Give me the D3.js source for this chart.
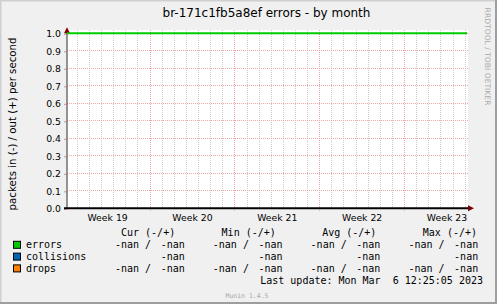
<!DOCTYPE html>
<html>
<head>
<meta charset="utf-8">
<script src="https://cdn.jsdelivr.net/npm/d3@7"></script>
<style>
  body { margin: 0; background: #F0F0F0; }
  svg { display: block; }
  text { font-family: "DejaVu Sans", sans-serif; }
  .mono { font-family: "DejaVu Sans Mono", monospace; white-space: pre; }
</style>
</head>
<body>
<div id="visualization"></div>
<script>
// time window of the month graph (munin: 33 days)
const timeStart = '2023-05-08T03:36:00Z';
const timeEnd = '2023-06-10T03:36:00Z';

// week tick labels
const weekStarts = ['2023-05-08', '2023-05-15', '2023-05-22', '2023-05-29', '2023-06-05'];
const weekLabels = ['Week 19', 'Week 20', 'Week 21', 'Week 22', 'Week 23'];

// y range
const yDomain = [0, 1.0];
const hruleValue = 1.0;

// legend
const seriesNames = ['errors', 'collisions', 'drops'];
const seriesColors = ['#00CC00', '#0066B3', '#FF8000'];
const statNames = ['Cur', 'Min', 'Avg', 'Max'];
// [in, out] per stat, null = not graphed
const errorsStats = [[NaN, NaN], [NaN, NaN], [NaN, NaN], [NaN, NaN]];
const collisionsStats = [[null, NaN], [null, NaN], [null, NaN], [null, NaN]];
const dropsStats = [[NaN, NaN], [NaN, NaN], [NaN, NaN], [NaN, NaN]];
const lastUpdate = 'Last update: Mon Mar  6 12:25:05 2023';

const chart = {
  width: 497,
  height: 304,
  left: 67,
  right: 467,
  top: 33.3,
  bottom: 208.3,

  init() {
    this.svg = d3.select('#visualization').append('svg')
      .attr('width', this.width)
      .attr('height', this.height);

    this.x = d3.scaleUtc()
      .domain([new Date(timeStart), new Date(timeEnd)])
      .range([this.left, this.right]);
    this.y = d3.scaleLinear()
      .domain(yDomain)
      .range([this.bottom, this.top]);

    this.drawFrame();
    this.drawGrid();
    this.drawAxes();
    this.drawSeries();
    this.drawTexts();
    this.drawLegend();
  },

  snap(v) {
    return Math.floor(v) + 0.5;
  },

  drawFrame() {
    const svg = this.svg;
    svg.append('rect').attr('width', this.width).attr('height', this.height).attr('fill', '#F0F0F0');
    // shade border
    svg.append('path').attr('d', `M0,${this.height} V0 H${this.width}`)
      .attr('fill', 'none').attr('stroke', '#CFCFCF').attr('stroke-width', 3);
    svg.append('path').attr('d', `M0,${this.height - 1} H${this.width - 1} V0`)
      .attr('fill', 'none').attr('stroke', '#9E9E9E').attr('stroke-width', 2);
    // canvas
    svg.append('rect')
      .attr('x', this.left).attr('y', 30)
      .attr('width', this.right - this.left + 1).attr('height', this.bottom - 30)
      .attr('fill', '#FFFFFF');
  },

  drawGrid() {
    const g = this.svg.append('g');
    const days = d3.utcDay.range(d3.utcDay.ceil(this.x.domain()[0]), this.x.domain()[1]);
    const weeks = weekStarts.map((d) => new Date(d + 'T00:00:00Z'))
      .filter((d) => d >= this.x.domain()[0]);
    const weekSet = new Set(weeks.map((d) => +d));

    g.selectAll('.minor')
      .data(days.filter((d) => !weekSet.has(+d)))
      .join('line')
      .attr('x1', (d) => this.snap(this.x(d)))
      .attr('x2', (d) => this.snap(this.x(d)))
      .attr('y1', 30).attr('y2', this.bottom)
      .attr('stroke', '#CDCDCD').attr('stroke-dasharray', '1,1');

    g.selectAll('.hgrid')
      .data(this.y.ticks(10).slice(1))
      .join('line')
      .attr('x1', this.left).attr('x2', this.right + 2)
      .attr('y1', (d) => this.snap(this.y(d)))
      .attr('y2', (d) => this.snap(this.y(d)))
      .attr('stroke', '#EFA8A8').attr('stroke-dasharray', '1,1');

    g.selectAll('.major')
      .data(weeks)
      .join('line')
      .attr('x1', (d) => this.snap(this.x(d)))
      .attr('x2', (d) => this.snap(this.x(d)))
      .attr('y1', 30).attr('y2', this.bottom + 3)
      .attr('stroke', '#EFA8A8').attr('stroke-dasharray', '1,1');
  },

  drawAxes() {
    const svg = this.svg;
    const yAxis = d3.axisLeft(this.y)
      .ticks(10)
      .tickFormat(d3.format('.1f'))
      .tickSize(3)
      .tickPadding(3);
    const ga = svg.append('g')
      .attr('transform', `translate(${this.left},0.5)`)
      .call(yAxis);
    ga.select('.domain').remove();
    ga.selectAll('line').attr('stroke', '#E08888');
    ga.selectAll('text')
      .attr('font-size', '9.3px')
      .attr('font-family', 'DejaVu Sans, sans-serif')
      .attr('fill', '#000');

    // y axis line + arrow
    svg.append('line')
      .attr('x1', this.left).attr('x2', this.left)
      .attr('y1', this.bottom).attr('y2', 29)
      .attr('stroke', '#7A7A7A').attr('stroke-width', 1.6);
    svg.append('path')
      .attr('d', `M${this.left - 3},${this.top} L${this.left + 3},${this.top} L${this.left},${this.top - 6}Z`)
      .attr('fill', '#7F0000');

    // x axis line + arrow
    svg.append('line')
      .attr('x1', this.left - 3).attr('x2', this.right + 2)
      .attr('y1', this.bottom).attr('y2', this.bottom)
      .attr('stroke', '#000').attr('stroke-width', 2);
    svg.append('path')
      .attr('d', `M${this.right + 1},${this.bottom - 3} L${this.right + 1},${this.bottom + 3} L${this.right + 7},${this.bottom}Z`)
      .attr('fill', '#7F0000');

    // week labels, centred in the week
    svg.append('g').selectAll('text')
      .data(weekStarts)
      .join('text')
      .attr('x', (d) => this.x(d3.utcHour.offset(new Date(d + 'T00:00:00Z'), 84)))
      .attr('y', 221)
      .attr('text-anchor', 'middle')
      .attr('font-size', '9.3px')
      .text((d, i) => weekLabels[i]);
  },

  drawSeries() {
    this.svg.append('line')
      .attr('x1', this.left).attr('x2', this.right)
      .attr('y1', this.y(hruleValue)).attr('y2', this.y(hruleValue))
      .attr('stroke', '#00CC00').attr('stroke-width', 2);
  },

  drawTexts() {
    const svg = this.svg;
    svg.append('text')
      .attr('x', 266.5).attr('y', 17.4)
      .attr('text-anchor', 'middle')
      .attr('font-size', '12px')
      .text('br-171c1fb5a8ef errors - by month');

    svg.append('text')
      .attr('transform', 'translate(15.5,124) rotate(-90)')
      .attr('text-anchor', 'middle')
      .attr('font-size', '10.2px')
      .text('packets in (-) / out (+) per second');

    svg.append('text')
      .attr('transform', 'translate(485,56.5) rotate(90)')
      .attr('text-anchor', 'middle')
      .attr('font-size', '7.6px')
      .attr('fill', '#ABABAB')
      .text('RRDTOOL / TOBI OETIKER');

    svg.append('text')
      .attr('class', 'mono')
      .attr('x', 247).attr('y', 297.7)
      .attr('text-anchor', 'middle')
      .attr('font-size', '6.5px')
      .attr('fill', '#A8A8A8')
      .text('Munin 1.4.5');
  },

  fmt(v) {
    return isNaN(v) ? '-nan' : d3.format('.2f')(v);
  },

  drawLegend() {
    const g = this.svg.append('g').attr('class', 'mono').attr('font-size', '10px');
    const rowY = (i) => 236.3 + i * 11.8;
    const headX = 121, headStep = 100.6;
    const negX = 115, posX = 160.7, colStep = 97.8;
    const stats = [errorsStats, collisionsStats, dropsStats];

    statNames.forEach((s, i) => {
      g.append('text').attr('class', 'mono')
        .attr('x', headX + i * headStep).attr('y', rowY(0))
        .text(`${s} (-/+)`);
    });

    seriesNames.forEach((name, r) => {
      const y = rowY(r + 1);
      g.append('rect')
        .attr('x', 13.5).attr('y', y - 6.8)
        .attr('width', 7).attr('height', 7)
        .attr('fill', seriesColors[r]).attr('stroke', '#000');
      g.append('text').attr('class', 'mono')
        .attr('x', 26).attr('y', y).text(name);
      stats[r].forEach((pair, i) => {
        if (pair[0] !== null) {
          g.append('text').attr('class', 'mono')
            .attr('x', negX + i * colStep).attr('y', y)
            .text(`${this.fmt(pair[0])} /`);
        }
        g.append('text').attr('class', 'mono')
          .attr('x', posX + i * colStep).attr('y', y)
          .text(this.fmt(pair[1]));
      });
    });

    g.append('text').attr('class', 'mono')
      .attr('x', 483).attr('y', rowY(4))
      .attr('text-anchor', 'end')
      .text(lastUpdate);
  }
};

chart.init();
</script>
</body>
</html>
